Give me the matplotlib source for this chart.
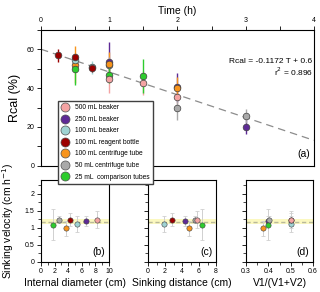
import matplotlib
matplotlib.use('Agg')
import matplotlib.pyplot as plt
from matplotlib.lines import Line2D

plt.rcParams['font.family'] = 'Liberation Sans'

# series: name, colour
names = ['500 mL beaker', '250 mL beaker', '100 mL beaker', '100 mL reagent bottle',
         '100 mL centrifuge tube', '50 mL centrifuge tube', '25 mL  comparison tubes']
colors = ['#f4a3a3', '#5e2a96', '#9fd3d3', '#9b0000', '#f7941d', '#a9a9a9', '#2ecc2e']

# panel (a): Rcal vs time, per series (time, Rcal, error)
t_pink = [1.0, 1.5, 2.0]
r_pink = [44.6, 42.7, 35.3]
e_pink = [7.0, 6.3, 5.0]
t_purple = [1.0, 2.0, 3.0]
r_purple = [53.5, 40.5, 20.2]
e_purple = [10.0, 7.5, 4.0]
t_cyan = [0.5, 0.75]
r_cyan = [54.4, 50.6]
e_cyan = [2.0, 3.2]
t_red = [0.25, 0.5, 0.75]
r_red = [56.9, 55.8, 50.4]
e_red = [3.3, 2.0, 2.0]
t_orange = [0.5, 1.0, 2.0]
r_orange = [52.1, 52.5, 39.8]
e_orange = [9.5, 6.0, 6.0]
t_gray = [1.0, 2.0, 3.0]
r_gray = [51.8, 29.6, 25.6]
e_gray = [4.0, 6.0, 3.6]
t_green = [0.5, 1.0, 1.5]
r_green = [49.6, 46.7, 46.3]
e_green = [8.0, 4.0, 8.6]

fit_slope = -0.1172
fit_icpt = 0.6

# panels (b)-(d): sinking velocity, same series order
v_sink = [1.24, 1.19, 1.10, 1.24, 0.99, 1.24, 1.09]
v_err = [0.25, 0.15, 0.23, 0.20, 0.22, 0.10, 0.45]
diam = [8.3, 6.67, 5.25, 4.26, 3.63, 2.65, 1.72]
dist = [5.8, 4.4, 1.91, 2.88, 4.87, 5.54, 6.39]
vratio = [0.5, 0.4, 0.5, 0.5, 0.374, 0.401, 0.4]
v_mean = 1.17
band_lo, band_hi = 1.10, 1.26

fig = plt.figure(figsize=(3.2, 2.92), dpi=100)

ax = fig.add_axes([0.128, 0.432, 0.853, 0.466])
fit_t = [0, 4]
ax.plot(fit_t, [100 * (fit_icpt + fit_slope * t) for t in fit_t], '--',
        color='#8c8c8c', lw=0.9, dashes=(6, 4), zorder=1)
series_a = [(t_pink, r_pink, e_pink), (t_purple, r_purple, e_purple),
            (t_cyan, r_cyan, e_cyan), (t_red, r_red, e_red),
            (t_orange, r_orange, e_orange), (t_gray, r_gray, e_gray),
            (t_green, r_green, e_green)]
# error bars first, then points on top
for (t, r, e), c in zip(series_a, colors):
    ax.errorbar(t, r, yerr=e, fmt='none', ecolor=c, elinewidth=1.0, zorder=2)
order = [1, 5, 4, 2, 3, 6, 0]
for i in order:
    t, r, e = series_a[i]
    ax.plot(t, r, 'o', color=colors[i], mec='#404040', mew=0.5, ms=4.8, zorder=3)
ax.set_xlim(0, 4)
ax.set_ylim(0, 70)
ax.xaxis.tick_top()
ax.xaxis.set_label_position('top')
ax.set_xticks([0, 0.5, 1, 1.5, 2, 2.5, 3, 3.5, 4])
ax.set_xticklabels(['0', '', '1', '', '2', '', '3', '', '4'])
ax.set_yticks(range(0, 71, 10))
ax.set_yticklabels(['0', '', '20', '', '40', '', '60', ''])
ax.tick_params(labelsize=5, length=3, width=0.6, pad=1.5)
ax.set_xlabel('Time (h)', fontsize=7.5, labelpad=2)
ax.set_ylabel('Rcal (%)', fontsize=9, labelpad=4)
for s in ax.spines.values():
    s.set_linewidth(0.8)
ax.text(0.995, 0.72, 'Rcal = -0.1172 T + 0.6\nr$^2$ = 0.896', transform=ax.transAxes,
        ha='right', va='center', fontsize=6, linespacing=1.1)
ax.text(0.985, 0.05, '(a)', transform=ax.transAxes, ha='right', va='bottom', fontsize=7.5)

handles = [Line2D([], [], ls='none', marker='o', color=c, mec='#505050', mew=0.5, ms=6.5)
           for c in colors]
fig.legend(handles, names, loc='upper left', bbox_to_anchor=(0.181, 1 - 101 / 292),
           fontsize=4.8, frameon=True, fancybox=False, edgecolor='#404040',
           framealpha=1, labelspacing=0.68, handletextpad=0.8, borderpad=0.5,
           handlelength=1.2, borderaxespad=0)

bottom_axes = [
    (0.128, 0.2125, diam, (0, 10), [0, 2, 4, 6, 8, 10], 1, 'Internal diameter (cm)', '(b)'),
    (0.4625, 0.2125, dist, (0, 8), [0, 2, 4, 6, 8], 1, 'Sinking distance (cm)', '(c)'),
    (0.769, 0.209, vratio, (0.3, 0.6), [0.3, 0.4, 0.5, 0.6], 0.05, 'V1/(V1+V2)', '(d)'),
]
for k, (left, width, xs, xlim, xt, minor, xlabel, tag) in enumerate(bottom_axes):
    bx = fig.add_axes([left, 0.103, width, 0.281])
    bx.axhspan(band_lo, band_hi, color='#fbf8c0', lw=0, zorder=0)
    bx.axhline(v_mean, color='#b9b99a', ls='--', lw=1.0, dashes=(3, 2), zorder=1)
    bx.errorbar(xs, v_sink, yerr=v_err, fmt='none', ecolor='#d0d0d0',
                elinewidth=0.7, capsize=1.5, capthick=0.6, zorder=2)
    for i in order:
        bx.plot(xs[i], v_sink[i], 'o', color=colors[i], mec='#404040', mew=0.4,
                ms=3.8, zorder=3)
    bx.set_xlim(*xlim)
    bx.set_ylim(0, 2.4)
    bx.set_xticks(xt)
    nminor = int(round((xlim[1] - xlim[0]) / minor)) + 1
    bx.set_xticks([xlim[0] + minor * j for j in range(nminor)], minor=True)
    bx.set_xticklabels([('%g' % v) for v in xt])
    bx.set_yticks([0, 0.5, 1, 1.5, 2])
    bx.set_yticks([0.25, 0.75, 1.25, 1.75, 2.25], minor=True)
    if k == 0:
        bx.set_yticklabels(['0', '0.5', '1', '1.5', '2'])
    else:
        bx.set_yticklabels([])
    bx.tick_params(labelsize=5, length=3, width=0.6, pad=1.5)
    bx.tick_params(which='minor', length=2, width=0.5)
    bx.set_xlabel(xlabel, fontsize=7.5, labelpad=2)
    for s in bx.spines.values():
        s.set_linewidth(0.8)
    bx.text(0.95, 0.06, tag, transform=bx.transAxes, ha='right', va='bottom', fontsize=7.5)

fig.text(0.025, 0.245, 'Sinking velocity (cm h$^{-1}$)', rotation=90, ha='center',
         va='center', fontsize=7.5)

fig.savefig('out.png', dpi=100)
